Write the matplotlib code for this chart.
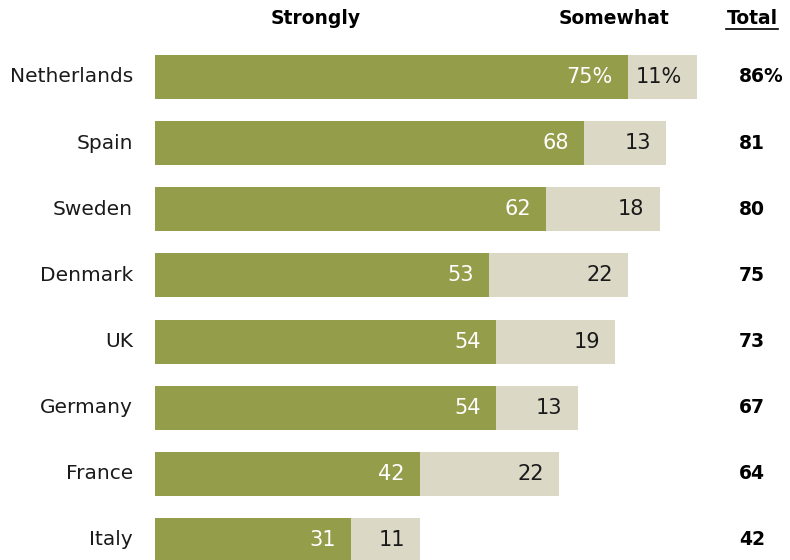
import matplotlib.pyplot as plt
from matplotlib.lines import Line2D

countries = ['Netherlands', 'Spain', 'Sweden', 'Denmark', 'UK', 'Germany', 'France', 'Italy']
strongly = [75, 68, 62, 53, 54, 54, 42, 31]
somewhat = [11, 13, 18, 22, 19, 13, 22, 11]
total = [86, 81, 80, 75, 73, 67, 64, 42]

GREEN = '#939d4a'
TAN = '#dcd8c6'

plt.rcParams['font.family'] = ['DejaVu Sans']

W, H = 790, 560
fig = plt.figure(figsize=(7.9, 5.6), dpi=100)
ax = fig.add_axes([155 / W, 0, 630 / W, 1])
ax.set_xlim(0, 630 / 6.307)
ax.set_ylim(7.303, -1.164)
ax.axis('off')

ys = list(range(len(countries)))
ax.barh(ys, strongly, height=0.665, color=GREEN)
ax.barh(ys, somewhat, left=strongly, height=0.665, color=TAN)

pad = 2.4
for i, (c, s, w, t) in enumerate(zip(countries, strongly, somewhat, total)):
    suffix = '%' if i == 0 else ''
    ax.text(-3.5, i, c, ha='right', va='center', fontsize=14.5, color='#1a1a1a')
    ax.text(s - pad, i, f'{s}{suffix}', ha='right', va='center', fontsize=15, color='white')
    ax.text(s + w - pad, i, f'{w}{suffix}', ha='right', va='center', fontsize=15, color='#1a1a1a')
    ax.text(92.6, i, f'{t}{suffix}', ha='left', va='center', fontsize=13.5,
            fontweight='bold', color='black')

# column headers
hy = 1 - 18 / H
fig.text(316 / W, hy, 'Strongly', ha='center', va='center', fontsize=13.5, fontweight='bold')
fig.text(614 / W, hy, 'Somewhat', ha='center', va='center', fontsize=13.5, fontweight='bold')
fig.text(752 / W, hy, 'Total', ha='center', va='center', fontsize=13.5, fontweight='bold')
fig.add_artist(Line2D([726 / W, 778 / W], [1 - 29 / H, 1 - 29 / H],
                      color='black', lw=1.2, transform=fig.transFigure))

fig.savefig('out.png', dpi=100)
